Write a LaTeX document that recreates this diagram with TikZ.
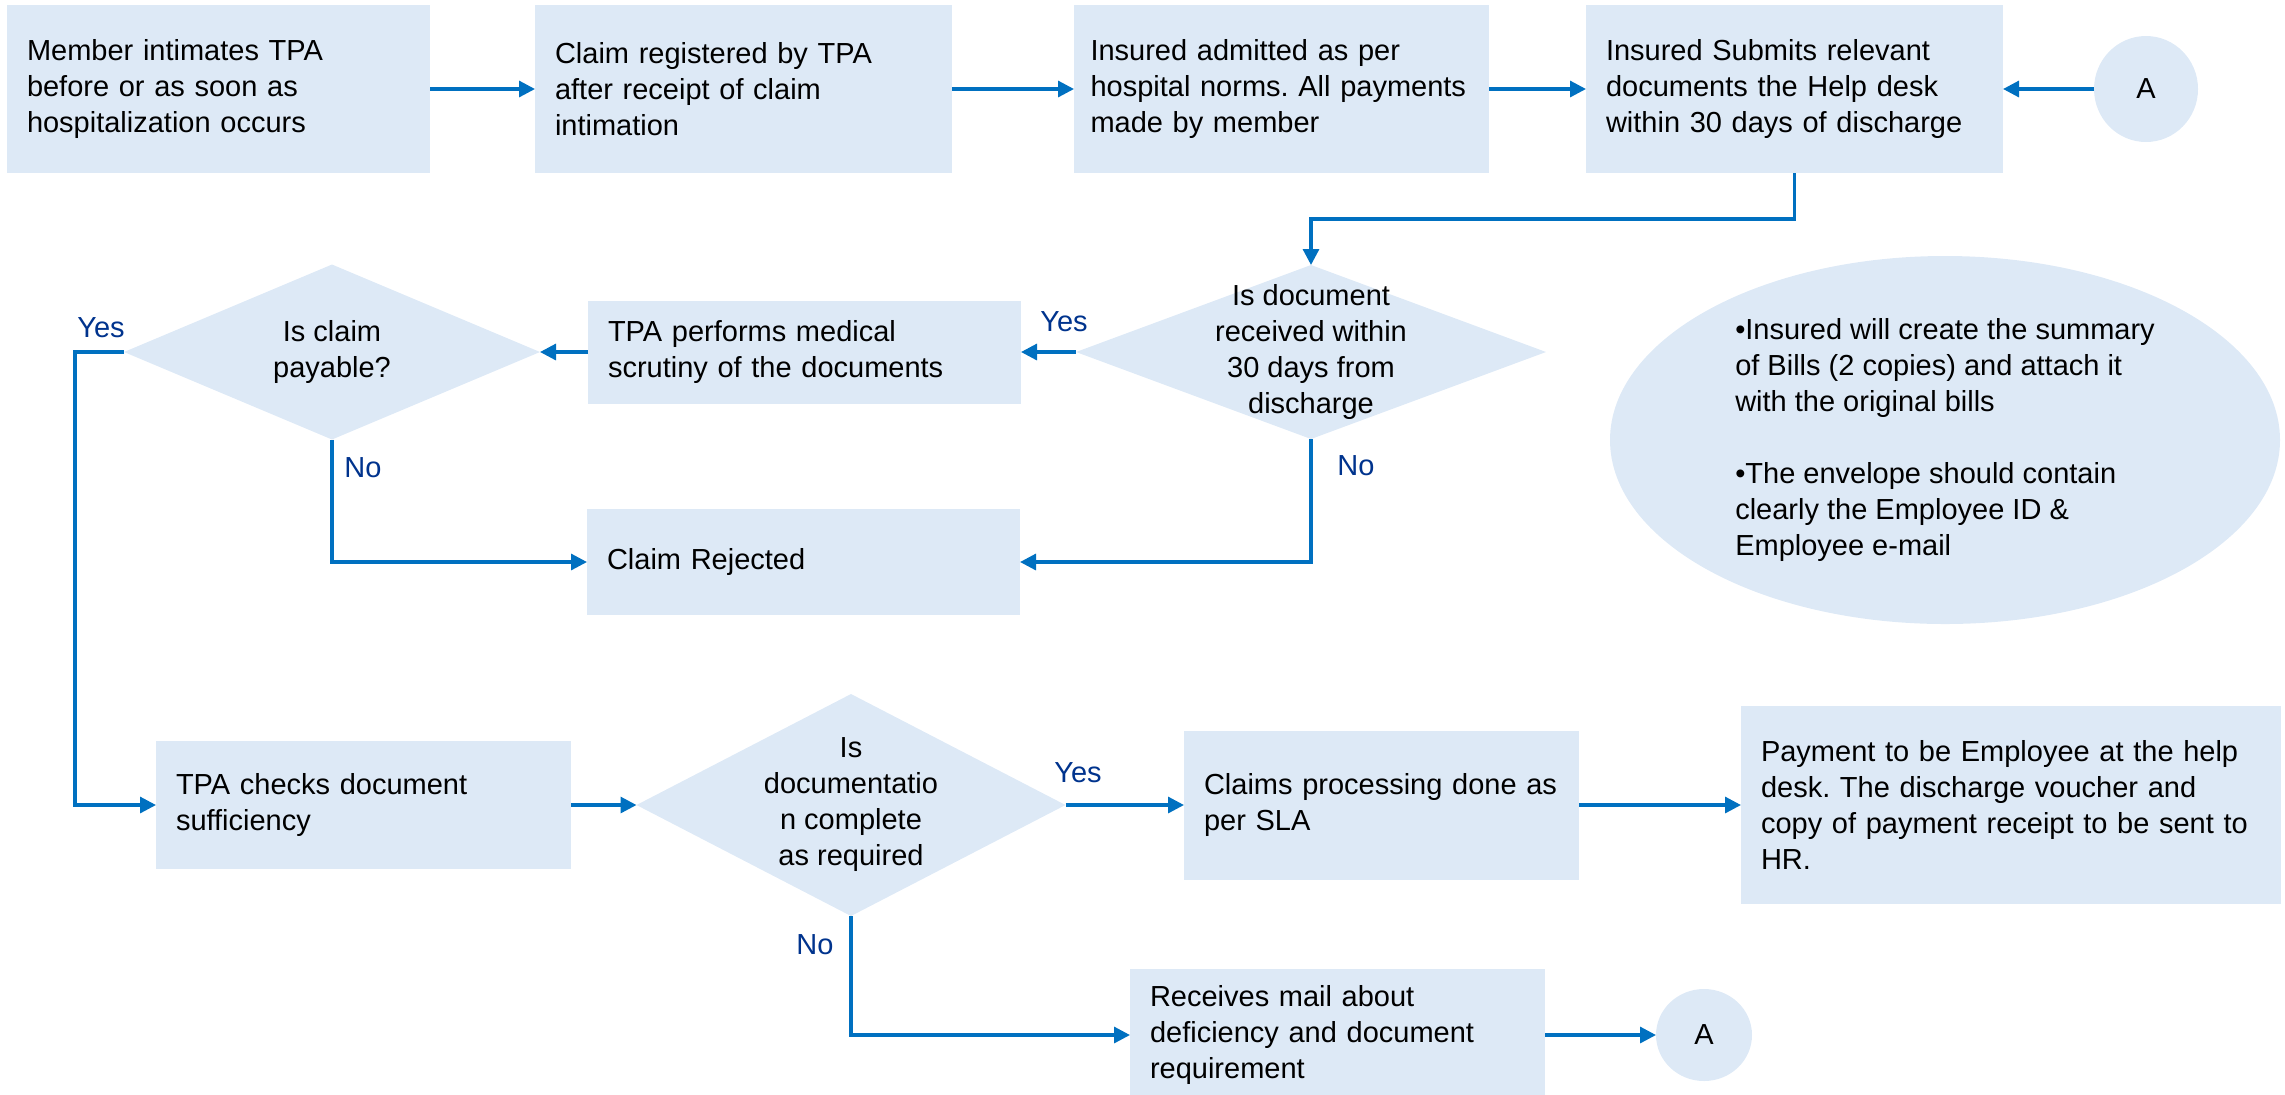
\documentclass[tikz,border=0pt]{standalone}
\usepackage{fontspec}
\setmainfont{Liberation Sans}
\usetikzlibrary{arrows.meta, shapes.geometric}
\definecolor{boxfill}{RGB}{221,233,246}
\definecolor{flowblue}{RGB}{0,112,192}
\definecolor{answerblue}{RGB}{0,51,141}
\frenchspacing
\hyphenpenalty=10000

\begin{document}
\begin{tikzpicture}[x=0.5pt, y=-0.5pt, >={Triangle[length=8pt, width=8pt]},
    every node/.style={font=\fontsize{14.5pt}{18pt}\selectfont, inner sep=0pt, outer sep=0pt},
    procbox/.style 2 args={fill=boxfill, anchor=west, align=left, inner xsep=10pt,
      text width=#1, minimum height=#2},
    decision/.style 2 args={diamond, fill=boxfill, minimum width=#1, minimum height=#2},
    decisiontext/.style={align=center},
    offpage/.style 2 args={ellipse, fill=boxfill, minimum width=#1, minimum height=#2},
    flow/.style={->, color=flowblue, line width=1.6pt},
    answer/.style={text=answerblue}]
    \useasboundingbox (0,0) rectangle (2285,1094);

    % top row
    \node[procbox={191.5pt}{84pt}] (intimate) at (7,89) {Member intimates TPA\\before or as soon as\\hospitalization occurs};
    \node[procbox={188.5pt}{84pt}] (register) at (535,89) {Claim registered by TPA\\after receipt of claim\\intimation};
    \node[procbox={191pt}{84pt}, inner xsep=8.25pt] (admit) at (1074,89) {Insured admitted as per\\hospital norms. All payments\\made by member};
    \node[procbox={188.5pt}{84pt}] (submit) at (1586,89) {Insured Submits relevant\\documents the Help desk\\within 30 days of discharge};
    \node[offpage={52pt}{53pt}] (refA) at (2146,89) {A};

    % checks on the documents
    \node[decision={235pt}{87pt}] (within) at (1311,352) {};
    \node[decisiontext] (withintext) at (within) {Is document\\received within\\30 days from\\discharge};
    \node[procbox={196.5pt}{51.5pt}] (scrutiny) at (588,352) {TPA performs medical\\scrutiny of the documents};
    \node[decision={208pt}{87.5pt}] (payable) at (332,352) {};
    \node[decisiontext] (payabletext) at (payable) {Is claim\\payable?};
    \node[procbox={196.5pt}{53pt}] (reject) at (587,562) {Claim Rejected};
    \node[ellipse, fill=boxfill, minimum width=335pt, minimum height=184pt, align=left] (notes) at (1945,440)
      {•Insured will create the summary\\of Bills (2 copies) and attach it\\with the original bills\\[18pt]•The envelope should contain\\clearly the Employee ID \&\\Employee e-mail};

    % bottom rows
    \node[procbox={187.5pt}{64pt}] (sufficiency) at (156,805) {TPA checks document\\sufficiency};
    \node[decision={214.5pt}{111pt}] (complete) at (851,805) {};
    \node[decisiontext] (completetext) at (complete) {Is\\documentatio\\n complete\\as required};
    \node[procbox={177.5pt}{74.5pt}] (sla) at (1184,805) {Claims processing done as\\per SLA};
    \node[procbox={250pt}{99pt}] (payment) at (1741,805) {Payment to be Employee at the help\\desk. The discharge voucher and\\copy of payment receipt to be sent to\\HR.};
    \node[procbox={187.5pt}{66pt}] (mail) at (1130,1035) {Receives mail about\\deficiency and document\\requirement};
    \node[offpage={48pt}{46pt}] (refB) at (1704,1035) {A};

    \node[answer] (yesdays) at (1064,322) {Yes};
    \node[answer] (nodays) at (1356,466) {No};
    \node[answer] (yespay) at (101,328) {Yes};
    \node[answer] (nopay) at (363,468) {No};
    \node[answer] (yesdoc) at (1078,773) {Yes};
    \node[answer] (nodoc) at (815,945) {No};

    \draw[flow] (intimate.east) -- (register.west);
    \draw[flow] (register.east) -- (admit.west);
    \draw[flow] (admit.east) -- (submit.west);
    \draw[flow] (refA.west) -- (submit.east);
    \draw[flow] (submit.south) -- ++(0,46) -| (within.north);
    \draw[flow] (within.west) -- (scrutiny.east);
    \draw[flow] (scrutiny.west) -- (payable.east);
    \draw[flow] (payable.west) -- ++(-49,0) |- (sufficiency.west);
    \draw[flow] (payable.south) |- (reject.west);
    \draw[flow] (within.south) |- (reject.east);
    \draw[flow] (sufficiency.east) -- (complete.west);
    \draw[flow] (complete.east) -- (sla.west);
    \draw[flow] (sla.east) -- (payment.west);
    \draw[flow] (complete.south) |- (mail.west);
    \draw[flow] (mail.east) -- (refB.west);
\end{tikzpicture}
\end{document}
